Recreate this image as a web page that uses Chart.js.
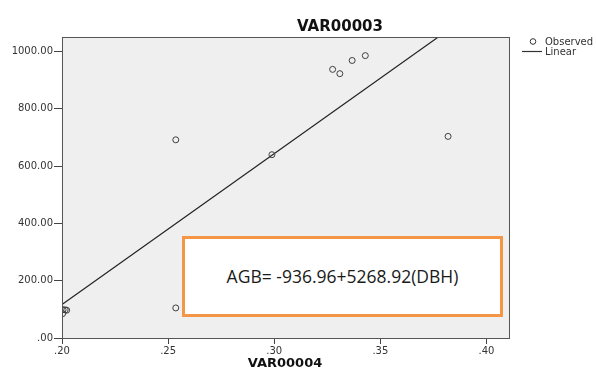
<!DOCTYPE html>
<html>
<head>
<meta charset="utf-8">
<script src="https://cdn.jsdelivr.net/npm/chart.js@4/dist/chart.umd.min.js"></script>
<style>
  html, body { margin: 0; padding: 0; background: #ffffff; }
  #wrap { position: relative; width: 596px; height: 370px; }
  #eq {
    position: absolute; left: 182px; top: 236px; width: 321px; height: 81px;
    box-sizing: border-box; border: 3px solid #F39646; background: #ffffff;
    display: flex; align-items: center; justify-content: center;
    font-family: "Open Sans", sans-serif; font-size: 17.5px; color: #1a1a1a;
    padding-bottom: 2px;
  }
</style>
</head>
<body>
<div id="wrap">
  <canvas id="c" width="596" height="370"></canvas>
  <div id="eq">AGB= -936.96+5268.92(DBH)</div>
</div>
<script>
// ---- data ----
const chartTitle = "VAR00003";
const xAxisTitle = "VAR00004";
const obsX = [0.2536, 0.2989, 0.3275, 0.3309, 0.3367, 0.3429, 0.3819, 0.2536, 0.2003, 0.2015, 0.2022, 0.2005];
const obsY = [692, 640, 938, 923, 969, 986, 704, 105, 85, 98, 97, 99];
const lineX = [0.20, 0.41];
const lineY = [116.8, 1223.3];
const xTicks = [0.20, 0.25, 0.30, 0.35, 0.40];
const yTicks = [0, 200, 400, 600, 800, 1000];
const legendLabels = ["Observed", "Linear"];

const fmt = v => v.toFixed(2).replace(/^0\./, '.');

const decor = {
  id: 'decor',
  beforeDraw(chart) {
    const { ctx, chartArea: a } = chart;
    ctx.save();
    ctx.fillStyle = '#EFEFEF';
    ctx.fillRect(a.left, a.top, a.right - a.left, a.bottom - a.top);
    ctx.restore();
  },
  afterDraw(chart) {
    const { ctx, chartArea: a } = chart;
    ctx.save();
    // frame
    ctx.strokeStyle = '#555555';
    ctx.lineWidth = 1;
    ctx.strokeRect(a.left + 0.5, a.top + 0.5, a.right - a.left, a.bottom - a.top);
    // title
    ctx.fillStyle = '#111111';
    ctx.textBaseline = 'middle';
    ctx.textAlign = 'center';
    ctx.font = 'bold 15px "DejaVu Sans"';
    ctx.fillText(chartTitle, 340, 27);
    // x axis title
    ctx.font = 'bold 13px "DejaVu Sans"';
    ctx.fillText(xAxisTitle, 285, 364);
    // legend
    ctx.textAlign = 'left';
    ctx.font = '10px "DejaVu Sans"';
    ctx.fillStyle = '#333333';
    ctx.strokeStyle = '#333333';
    ctx.beginPath();
    ctx.arc(533, 41.5, 2.8, 0, Math.PI * 2);
    ctx.stroke();
    ctx.fillText(legendLabels[0], 545, 42);
    ctx.beginPath();
    ctx.moveTo(522, 51.5);
    ctx.lineTo(542, 51.5);
    ctx.lineWidth = 1.2;
    ctx.stroke();
    ctx.fillText(legendLabels[1], 545, 52);
    ctx.restore();
  }
};

new Chart(document.getElementById('c'), {
  type: 'scatter',
  data: {
    datasets: [
      {
        label: legendLabels[0],
        data: obsX.map((x, i) => ({ x, y: obsY[i] })),
        pointRadius: 3,
        pointBorderWidth: 1,
        pointBorderColor: '#404040',
        pointBackgroundColor: 'rgba(0,0,0,0)',
        showLine: false
      },
      {
        label: legendLabels[1],
        data: lineX.map((x, i) => ({ x, y: lineY[i] })),
        showLine: true,
        borderColor: '#222222',
        borderWidth: 1.2,
        pointRadius: 0,
        fill: false
      }
    ]
  },
  options: {
    responsive: false,
    animation: false,
    devicePixelRatio: 1,
    layout: { padding: { left: 0, top: 37, right: 87, bottom: 0 } },
    plugins: { legend: { display: false }, title: { display: false }, tooltip: { enabled: false } },
    scales: {
      x: {
        type: 'linear',
        min: 0.20,
        max: 0.4106,
        afterBuildTicks: s => { s.ticks = xTicks.map(v => ({ value: v })); },
        afterFit: s => { s.height = 32; },
        ticks: { callback: v => fmt(v), color: '#333333', font: { family: 'DejaVu Sans', size: 10 }, padding: 1, maxRotation: 0, autoSkip: false },
        grid: { drawOnChartArea: false, drawTicks: true, tickLength: 6, color: '#444444' },
        border: { display: true, color: '#555555' }
      },
      y: {
        type: 'linear',
        min: 0,
        max: 1051,
        afterBuildTicks: s => { s.ticks = yTicks.map(v => ({ value: v })); },
        afterFit: s => { s.width = 62; },
        ticks: { callback: v => fmt(v), color: '#333333', font: { family: 'DejaVu Sans', size: 10 }, padding: 1, autoSkip: false },
        grid: { drawOnChartArea: false, drawTicks: true, tickLength: 8, color: '#444444' },
        border: { display: true, color: '#555555' }
      }
    }
  },
  plugins: [decor]
});
</script>
</body>
</html>
